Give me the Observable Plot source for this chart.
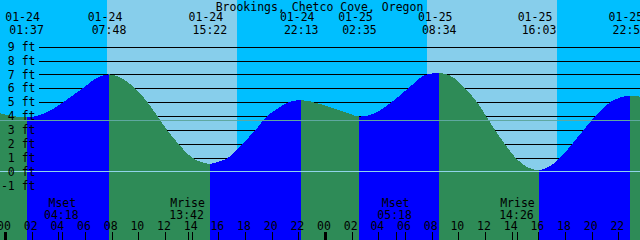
<!DOCTYPE html>
<html><head><meta charset="utf-8">
<script src="https://cdn.jsdelivr.net/npm/d3@7"></script>
<script src="https://cdn.jsdelivr.net/npm/@observablehq/plot@0.6"></script>
<style>
html,body{margin:0;padding:0;background:#00bfff;overflow:hidden;}
#chart svg{display:block;}
</style></head><body><div id="chart"></div>
<script>
// ---- data ----
const title = "Brookings, Chetco Cove, Oregon";
// high / low tides
const tideTimes = ["01-24 01:37","01-24 07:48","01-24 15:22","01-24 22:13","01-25 02:35","01-25 08:34","01-25 16:03","01-25 22:52"];
const tideHeights = [3.9, 7.0, 0.55, 5.15, 3.95, 7.1, 0.1, 5.45];
// intermediate readings of the curve (hours since 01-24 00:00, feet)
const readHours   = [-0.375, 0.6, 2.5, 3.4, 4.375, 5.83, 7.0, 8.6, 9.75, 10.68, 11.42, 12.15, 13.0, 14.02, 14.85,
                     16.0, 16.75, 17.8, 18.8, 19.65, 20.4, 21.3, 23.6, 24.9, 25.9, 27.75, 29.0, 30.25, 31.63,
                     33.4, 34.5, 35.4, 36.08, 36.75, 37.47, 38.28, 39.2, 40.8, 41.65, 42.55, 43.4, 44.28, 45.4, 46.2, 47.625];
const readHeights = [4.2, 4.0, 4.05, 4.4, 5.0, 6.0, 6.8, 6.8, 6.0, 5.0, 4.0, 3.0, 2.0, 1.0, 0.64,
                     0.7, 1.0, 2.0, 3.0, 4.0, 4.5, 5.0, 4.87, 4.48, 4.15, 4.2, 5.0, 6.0, 7.0,
                     6.9, 6.0, 5.0, 4.0, 3.0, 2.0, 1.0, 0.3, 0.35, 1.0, 2.0, 3.0, 4.0, 5.0, 5.35, 5.4];
const sunriseTimes = ["01-24 07:39", "01-25 07:39"];
const sunsetTimes  = ["01-24 17:24", "01-25 17:24"];
const moonLabels = ["Mset", "Mrise", "Mset", "Mrise"];
const moonTimes  = ["01-24 04:18", "01-24 13:42", "01-25 05:18", "01-25 14:26"];
const levelTicks = [-1, 0, 1, 2, 3, 4, 5, 6, 7, 8, 9];
const hourTicks = [0, 2, 4, 6, 8, 10, 12, 14, 16, 18, 20, 22, 24, 26, 28, 30, 32, 34, 36, 38, 40, 42, 44, 46];
const midnightTicks = [0, 24];
const mslHeight = 3.69;
const datumHeight = 0;

// ---- layout ----
const W = 640, H = 240;
const xDomain = [-0.375, 47.625];
const yDomain = [-4.939, 12.365];
const pxToFt = (py) => yDomain[1] - py / H * (yDomain[1] - yDomain[0]);
const pxToHour = (px) => xDomain[0] + px / W * (xDomain[1] - xDomain[0]);
const FONT = "DejaVu Sans Mono";
const FS = 11.5;

const toHours = (s) => {
  const [md, hm] = s.split(" ");
  const day = +md.split("-")[1];
  const [hh, mm] = hm.split(":").map(Number);
  return (day - 24) * 24 + hh + mm / 60;
};
const dateOf = (s) => s.split(" ")[0];
const timeOf = (s) => s.split(" ")[1];
const pad2 = (n) => String(n % 24).padStart(2, "0");

const ext = tideTimes.map((t, i) => ({h: toHours(t), ft: tideHeights[i], label: t}));
const curve = [...ext.map(d => ({h: d.h, ft: d.ft})), ...readHours.map((h, i) => ({h, ft: readHeights[i]}))]
  .sort((a, b) => a.h - b.h);
// rising (flood) intervals between a low and the following high
const floodIntervals = [];
for (let i = 0; i + 1 < ext.length; i++) if (ext[i + 1].ft > ext[i].ft) floodIntervals.push([ext[i].h, ext[i + 1].h]);

const days = sunriseTimes.map((t, i) => ({x1: toHours(t), x2: toHours(sunsetTimes[i])}));
const moons = moonTimes.map((t, i) => ({h: toHours(t), name: moonLabels[i], time: timeOf(t)}));

const txt = {fontFamily: FONT, fontSize: FS, fill: "black"};

const chart = Plot.plot({
  width: W, height: H,
  marginTop: 0, marginRight: 0, marginBottom: 0, marginLeft: 0,
  x: {domain: xDomain, axis: null},
  y: {domain: yDomain, axis: null},
  style: {background: "#00bfff", fontFamily: FONT, fontSize: FS + "px"},
  marks: [
    // daylight
    Plot.rect(days, {x1: "x1", x2: "x2", y1: yDomain[0], y2: yDomain[1], fill: "#87ceeb", shapeRendering: "crispEdges"}),
    // level grid
    Plot.ruleY(levelTicks, {y: d => d, x1: pxToHour(39), x2: xDomain[1], stroke: "black", strokeWidth: 1, shapeRendering: "crispEdges"}),
    // tide: falling (ebb) everywhere, rising (flood) clipped to flood intervals below
    Plot.areaY(curve, {x: "h", y1: yDomain[0], y2: "ft", fill: "#2e8b57", curve: "monotone-x", shapeRendering: "crispEdges"}),
    Plot.areaY(curve, {x: "h", y1: yDomain[0], y2: "ft", fill: "#0000ff", curve: "monotone-x", shapeRendering: "crispEdges"}),
    // mean sea level and datum
    Plot.ruleY([mslHeight], {stroke: "#5fa8a0", strokeWidth: 1, shapeRendering: "crispEdges"}),
    Plot.ruleY([datumHeight], {stroke: "#90d4ea", strokeWidth: 1, shapeRendering: "crispEdges"}),
    // level labels
    Plot.text(levelTicks, {y: d => d, text: d => `${d} ft`, frameAnchor: "left", dx: 35, textAnchor: "end", lineAnchor: "middle", ...txt}),
    // hour ticks and labels
    Plot.ruleX(hourTicks, {x: d => d, y1: yDomain[0], y2: pxToFt(232), stroke: "black", strokeWidth: 1, shapeRendering: "crispEdges"}),
    Plot.ruleX(midnightTicks, {x: d => d, y1: yDomain[0], y2: pxToFt(232), stroke: "black", strokeWidth: 3, shapeRendering: "crispEdges"}),
    Plot.text(hourTicks, {x: d => d, text: d => pad2(d), frameAnchor: "bottom", lineAnchor: "bottom", dy: -10.7, dx: -1.5, ...txt}),
    // moon events
    Plot.ruleX(moons, {x: "h", y1: yDomain[0], y2: pxToFt(232), stroke: "black", strokeWidth: 1, shapeRendering: "crispEdges"}),
    Plot.text(moons, {x: "h", text: "name", frameAnchor: "bottom", lineAnchor: "bottom", dy: -34, dx: -0.5, ...txt}),
    Plot.text(moons, {x: "h", text: "time", frameAnchor: "bottom", lineAnchor: "bottom", dy: -21.7, dx: -1.5, ...txt}),
    // tide event labels
    Plot.text(ext, {x: "h", text: d => dateOf(d.label), frameAnchor: "top", lineAnchor: "bottom", dy: 20.7, dx: -4.5, ...txt}),
    Plot.text(ext, {x: "h", text: d => timeOf(d.label), frameAnchor: "top", lineAnchor: "bottom", dy: 33.8, dx: -0.5, ...txt}),
    // title
    Plot.text([title], {text: d => d, frameAnchor: "top", lineAnchor: "bottom", dy: 10, dx: -1, ...txt})
  ]
});

// clip the rising-tide area to the flood intervals, using Plot's own x scale
const xs = chart.scale("x");
const NS = "http://www.w3.org/2000/svg";
const defs = document.createElementNS(NS, "defs");
const cp = document.createElementNS(NS, "clipPath");
cp.setAttribute("id", "flood-clip");
for (const [a, b] of floodIntervals) {
  const r = document.createElementNS(NS, "rect");
  const x0 = Math.round(xs.apply(a)), x1 = Math.round(xs.apply(b));
  r.setAttribute("x", x0); r.setAttribute("width", x1 - x0);
  r.setAttribute("y", 0); r.setAttribute("height", H);
  cp.appendChild(r);
}
defs.appendChild(cp);
chart.insertBefore(defs, chart.firstChild);
const areas = chart.querySelectorAll('g[aria-label="area"]');
areas[areas.length - 1].setAttribute("clip-path", "url(#flood-clip)");

document.getElementById("chart").append(chart);
</script>
</body></html>
